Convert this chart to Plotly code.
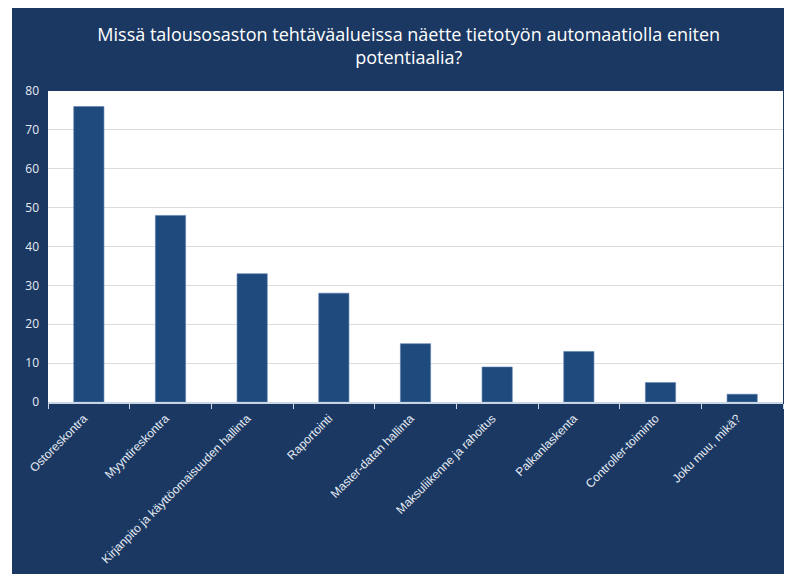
import plotly.graph_objects as go

categories = ["Ostoreskontra", "Myyntireskontra", "Kirjanpito ja käyttöomaisuuden hallinta",
              "Raportointi", "Master-datan hallinta", "Maksuliikenne ja rahoitus",
              "Palkanlaskenta", "Controller-toiminto", "Joku muu, mikä?"]
values = [76, 48, 33, 28, 15, 9, 13, 5, 2]
title_text = "Missä talousosaston tehtäväalueissa näette tietotyön automaatiolla eniten<br>potentiaalia?"

NAVY = "#1B3862"
BAR = "#1F4A7E"
TXT = "#E6ECF4"

fig = go.Figure(go.Bar(x=categories, y=values, marker=dict(color=BAR, line=dict(color="#5B7FAE", width=0.6))))

fig.update_layout(
    width=792, height=574,
    paper_bgcolor=NAVY, plot_bgcolor="white",
    margin=dict(l=40, r=17, t=83, b=180, autoexpand=False),
    bargap=0.63,
    showlegend=False,
    title=dict(text=title_text, x=0.506, xanchor="center", y=0.943, yanchor="top",
               font=dict(family="Open Sans", size=18, color="white")),
    shapes=[
        dict(type="rect", xref="paper", yref="paper", layer="below",
             x0=-40/735, x1=-36/735, y0=-180/311, y1=1 + 83/311,
             fillcolor="white", line=dict(width=0)),
    ],
)
fig.update_yaxes(range=[0, 80], dtick=10, showgrid=True, gridcolor="#DCDCDC", gridwidth=1,
                 tickfont=dict(family="Open Sans", size=12, color=TXT), zeroline=False,
                 ticks="", ticklen=0, ticklabelstandoff=8, automargin=False)
fig.update_xaxes(tickangle=-45, tickson="boundaries", ticks="outside", ticklen=5,
                 tickcolor="#C9D6E6", showline=True, linecolor="#C9D6E6", linewidth=1.5,
                 ticklabelshift=-5, ticklabelstandoff=3,
                 tickfont=dict(family="Liberation Sans", size=12, color=TXT), automargin=False)

fig.write_html("out.html")
